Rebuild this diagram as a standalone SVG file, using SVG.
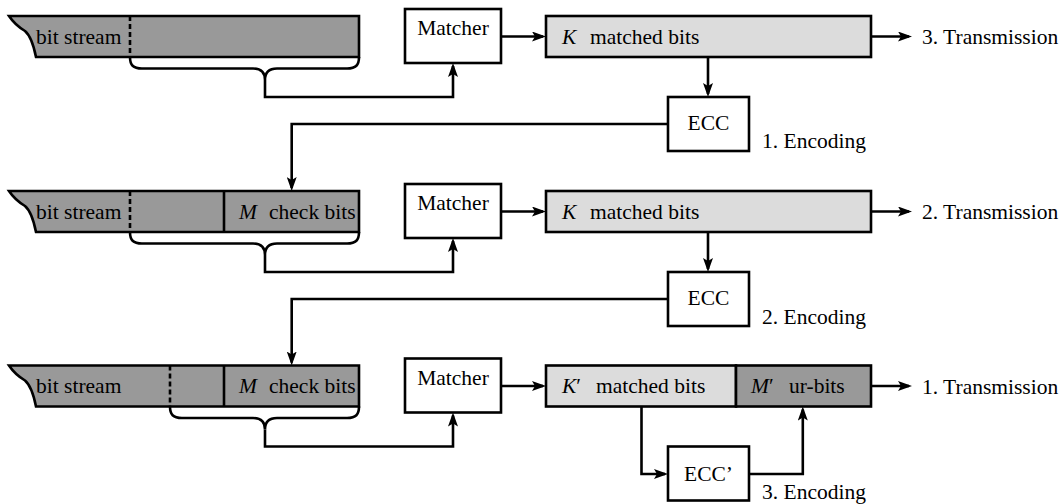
<svg xmlns="http://www.w3.org/2000/svg" width="1064" height="504" viewBox="0 0 1064 504">
<style>
text{font-family:"Liberation Serif","Times New Roman","DejaVu Serif",serif;font-size:21.5px;fill:#000}
.it{font-style:italic}
.mid{text-anchor:middle}
.box{fill:#fff;stroke:#000;stroke-width:2.6}
.light{fill:#dcdcdc;stroke:#000;stroke-width:2.6}
.dark{fill:#999;stroke:#000;stroke-width:2.6}
.dash{stroke:#000;stroke-width:2.6;stroke-dasharray:5 3;fill:none}
.div{stroke:#000;stroke-width:2.6;fill:none}
.con{fill:none;stroke:#000;stroke-width:2.6;stroke-linejoin:miter}
.arr{marker-end:url(#ah)}
</style>
<defs>
<marker id="ah" markerUnits="userSpaceOnUse" markerWidth="14" markerHeight="10" viewBox="0 0 14 10" refX="11" refY="5" orient="auto">
<path d="M0,0 L14,5 L0,10 L3,5 Z" fill="#000"/>
</marker>
</defs>

<!-- Row 1 -->
<g id="bitstream1">
<path class="dark" d="M9,16 H359 V57 H36 Q32,37 25,31 Q15,25 9,16 Z"/>
<line class="dash" x1="130" y1="16" x2="130" y2="57"/>
<text x="36" y="43.5">bit stream</text>
</g>
<g id="matcher1">
<rect class="box" x="405" y="9" width="96" height="54"/>
<text class="mid" x="453" y="35">Matcher</text>
</g>
<g id="kbits1">
<rect class="light" x="546" y="16" width="325" height="41"/>
<text class="it" x="562" y="43.5">K</text>
<text x="590" y="43.5">matched bits</text>
</g>
<g id="ecc1">
<rect class="box" x="668" y="97" width="81" height="54"/>
<text class="mid" x="708.5" y="130">ECC</text>
</g>
<g id="enc1"><text x="762" y="148">1. Encoding</text></g>
<g id="tx3"><text x="922" y="44">3. Transmission</text></g>

<!-- Row 2 -->
<g id="bitstream2">
<path class="dark" d="M9,191 H359 V232 H36 Q32,212 25,206 Q15,200 9,191 Z"/>
<line class="dash" x1="130" y1="191" x2="130" y2="232"/>
<line class="div" x1="224" y1="191" x2="224" y2="232"/>
<text x="36" y="218.5">bit stream</text>
<text class="it" x="239" y="218.5">M</text>
<text x="269" y="218.5">check bits</text>
</g>
<g id="matcher2">
<rect class="box" x="405" y="184" width="96" height="54"/>
<text class="mid" x="453" y="210">Matcher</text>
</g>
<g id="kbits2">
<rect class="light" x="546" y="191" width="325" height="41"/>
<text class="it" x="562" y="218.5">K</text>
<text x="590" y="218.5">matched bits</text>
</g>
<g id="ecc2">
<rect class="box" x="668" y="272" width="81" height="54"/>
<text class="mid" x="708.5" y="305">ECC</text>
</g>
<g id="enc2"><text x="762" y="324">2. Encoding</text></g>
<g id="tx2"><text x="922" y="219">2. Transmission</text></g>

<!-- Row 3 -->
<g id="bitstream3">
<path class="dark" d="M9,365.5 H359 V406.5 H36 Q32,386.5 25,380.5 Q15,374.5 9,365.5 Z"/>
<line class="dash" x1="170" y1="365.5" x2="170" y2="406.5"/>
<line class="div" x1="224" y1="365.5" x2="224" y2="406.5"/>
<text x="36" y="393">bit stream</text>
<text class="it" x="239" y="393">M</text>
<text x="269" y="393">check bits</text>
</g>
<g id="matcher3">
<rect class="box" x="405" y="358.5" width="96" height="54"/>
<text class="mid" x="453" y="384.5">Matcher</text>
</g>
<g id="kbits3">
<rect class="light" x="546" y="365.5" width="190" height="41"/>
<text x="562" y="393"><tspan class="it">K</tspan>′</text>
<text x="596" y="393">matched bits</text>
</g>
<g id="urbits3">
<rect class="dark" x="736" y="365.5" width="135" height="41"/>
<text x="751" y="393"><tspan class="it">M</tspan>′</text>
<text x="789" y="393">ur-bits</text>
</g>
<g id="ecc3">
<rect class="box" x="668" y="446.5" width="81" height="54"/>
<text class="mid" x="708.5" y="480.5">ECC’</text>
</g>
<g id="enc3"><text x="762" y="498.5">3. Encoding</text></g>
<g id="tx1"><text x="922" y="393.5">1. Transmission</text></g>

<g id="connectors">
<!-- row 1 -->
<path class="con" d="M130,57 C130,65 133,68.5 142,68.5 H253 C261,68.5 265,72 265,80 C265,72 269,68.5 277,68.5 H347 C356,68.5 359,65 359,57"/>
<path class="con arr" d="M265,80 V97 H453 V66"/>
<path class="con arr" d="M501,36.5 H543"/>
<path class="con arr" d="M871,36.5 H909"/>
<path class="con arr" d="M708,57 V94"/>
<path class="con arr" d="M668,124 H291.7 V188"/>
<!-- row 2 -->
<path class="con" d="M130,232 C130,240 133,243.5 142,243.5 H253 C261,243.5 265,247 265,255 C265,247 269,243.5 277,243.5 H347 C356,243.5 359,240 359,232"/>
<path class="con arr" d="M265,255 V272 H453 V241"/>
<path class="con arr" d="M501,211.5 H543"/>
<path class="con arr" d="M871,211.5 H909"/>
<path class="con arr" d="M708,232 V269"/>
<path class="con arr" d="M668,299 H291.7 V362.5"/>
<!-- row 3 -->
<path class="con" d="M170,406.5 C170,414.5 173,418 182,418 H253 C261,418 265,421.5 265,429.5 C265,421.5 269,418 277,418 H347 C356,418 359,414.5 359,406.5"/>
<path class="con arr" d="M265,429.5 V446.5 H453 V415.5"/>
<path class="con arr" d="M501,386 H543"/>
<path class="con arr" d="M871,386 H909"/>
<path class="con arr" d="M641.5,406.5 V474 H665"/>
<path class="con arr" d="M749,474 H802.8 V409.5"/>
</g>
</svg>
